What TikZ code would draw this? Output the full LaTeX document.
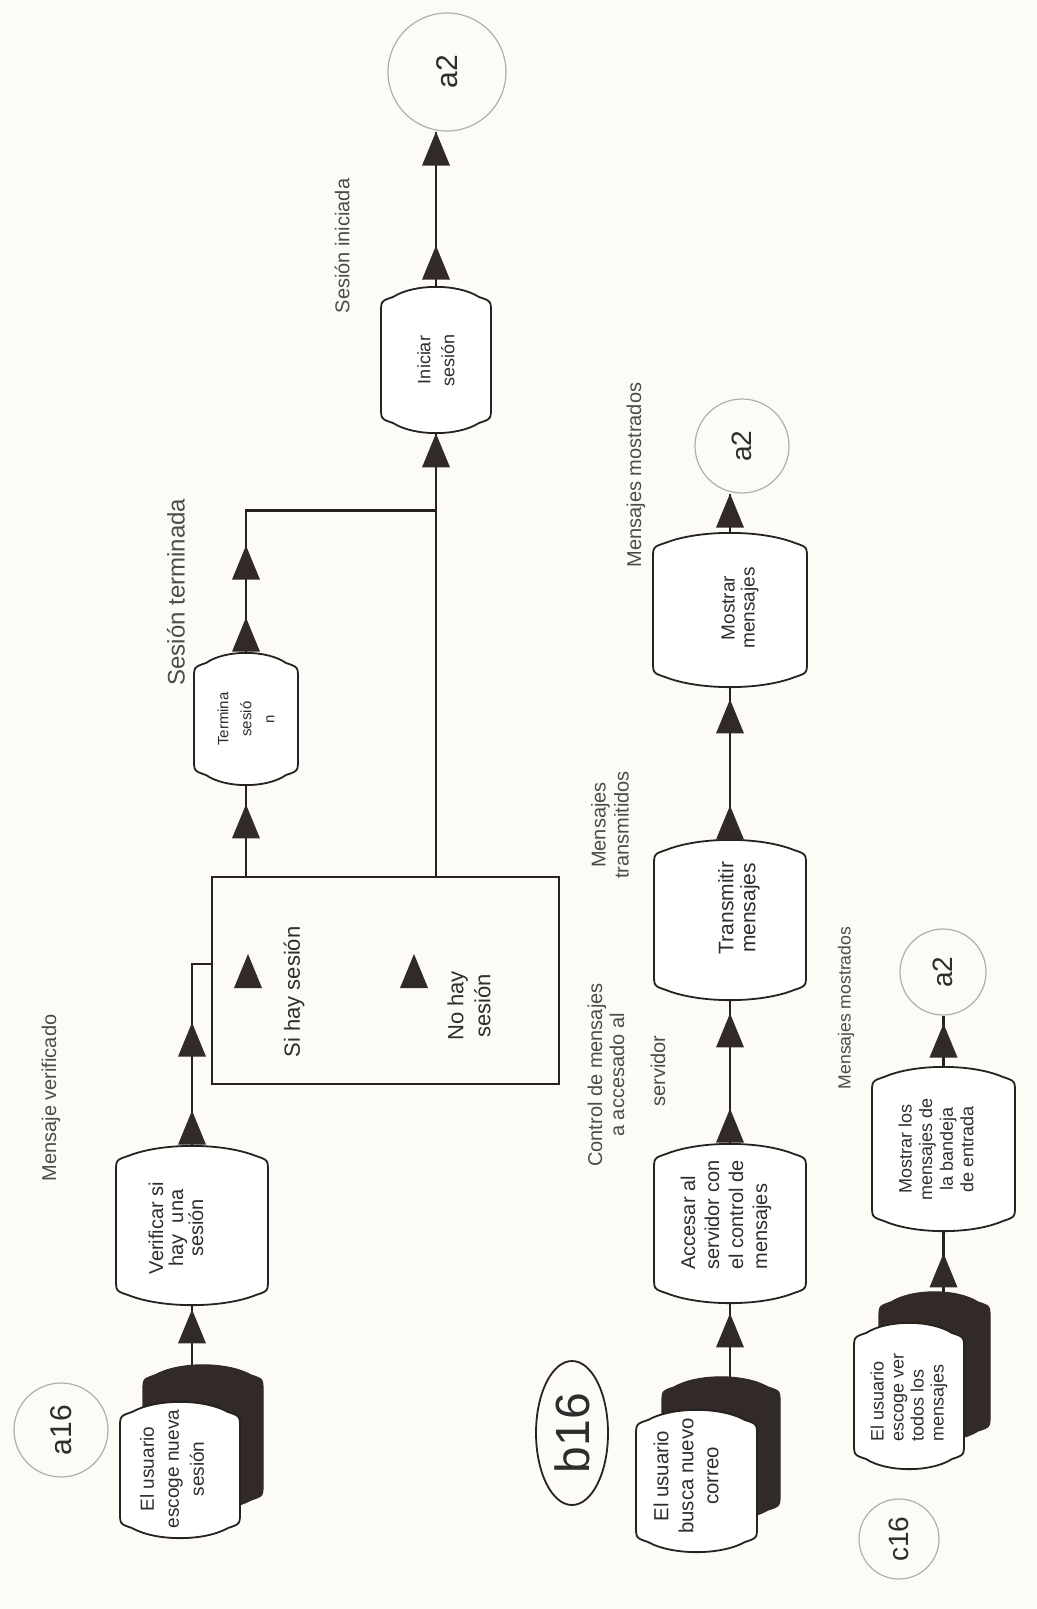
\documentclass[tikz,border=0pt]{standalone}
\usepackage{fontspec}
\setmainfont{Liberation Sans}
\usetikzlibrary{calc,shapes.geometric}
\definecolor{paper}{RGB}{253,251,246}
\definecolor{ink}{RGB}{38,34,32}
\definecolor{trifill}{RGB}{50,42,38}
\definecolor{circ}{RGB}{175,175,175}
\definecolor{lbl}{RGB}{75,75,75}
\definecolor{txt}{RGB}{45,45,45}

% #1 name, #2 x1, #3 y1, #4 x2, #5 y2, #6 style
\newcommand{\procbox}[6]{%
  \path[#6] ({#2},{#3+26}) .. controls ({#2},{#3+14}) .. ({#2+12},{#3+10})
    .. controls ({#2+0.3*(#4-#2)},{#3-3.5}) and ({#4-0.3*(#4-#2)},{#3-3.5}) .. ({#4-12},{#3+10})
    .. controls ({#4},{#3+14}) .. ({#4},{#3+26})
    -- ({#4},{#5-26})
    .. controls ({#4},{#5-14}) .. ({#4-12},{#5-10})
    .. controls ({#4-0.3*(#4-#2)},{#5+3.5}) and ({#2+0.3*(#4-#2)},{#5+3.5}) .. ({#2+12},{#5-10})
    .. controls ({#2},{#5-14}) .. ({#2},{#5-26}) -- cycle;
  \node[inner sep=0pt, minimum width={(#4-#2)*0.5}, minimum height={(#5-#3)*0.5}] (#1) at ({(#2+#4)/2},{(#3+#5)/2}) {};
}

\tikzset{
  conn/.style={draw=ink, line width=1.1pt},
  frontbox/.style={fill=white, draw=ink, line width=0.9pt},
  shadowbox/.style={fill=trifill, draw=trifill, line width=0.6pt},
  circnode/.style={circle, draw=circ, line width=0.6pt, inner sep=0pt},
  boxtext/.style={rotate=90, align=center, text=txt, inner sep=0pt},
  lbltext/.style={rotate=90, align=center, text=lbl, inner sep=0pt},
  pics/triup/.style={code={\fill[trifill] (-14,0) -- (14,0) -- (0,-34) -- cycle;}},
}

\begin{document}
\begin{tikzpicture}[x=0.5pt,y=-0.5pt]
\fill[paper] (0,0) rectangle (1037,1609);
\useasboundingbox (0,0) rectangle (1037,1609);

% ---------- circles ----------
\node[circnode, minimum size=59pt] (a2t) at (447,72) {};
\node[boxtext, font=\fontsize{15}{18}\selectfont] (a2t-l) at (a2t) {a2};
\node[circnode, minimum size=47pt] (a2m) at (742,446) {};
\node[boxtext, font=\fontsize{14}{17}\selectfont] (a2m-l) at (a2m) {a2};
\node[circnode, minimum size=43pt] (a2c) at (943,972) {};
\node[boxtext, font=\fontsize{14}{17}\selectfont] (a2c-l) at (a2c) {a2};
\node[circnode, minimum size=47pt] (a16) at (61,1430) {};
\node[boxtext, font=\fontsize{15}{18}\selectfont] (a16-l) at (a16) {a16};
\node[ellipse, draw=ink, line width=0.9pt, minimum width=36pt, minimum height=72pt, inner sep=0pt] (b16) at (572,1433) {};
\node[boxtext, font=\fontsize{24}{28}\selectfont] (b16-l) at (b16) {b16};
\node[circnode, minimum size=40pt] (c16) at (899,1539) {};
\node[boxtext, font=\fontsize{14}{17}\selectfont] (c16-l) at (c16) {c16};

% ---------- boxes ----------
\procbox{ini}{381}{287}{491}{433}{frontbox}
\procbox{ter}{194}{653}{298}{785}{frontbox}
\procbox{ver}{116}{1146}{268}{1305}{frontbox}
\procbox{ash}{143}{1365}{263}{1510}{shadowbox}
\procbox{afr}{120}{1402}{240}{1538}{frontbox}
\procbox{acc}{654}{1144}{806}{1303}{frontbox}
\procbox{tra}{654}{840}{806}{1000}{frontbox}
\procbox{mos}{653}{533}{807}{687}{frontbox}
\procbox{bsh}{662}{1377}{780}{1520}{shadowbox}
\procbox{bfr}{636}{1410}{757}{1552}{frontbox}
\procbox{mlb}{872}{1067}{1015}{1231}{frontbox}
\procbox{csh}{879}{1292}{990}{1441}{shadowbox}
\procbox{cfr}{854}{1323}{964}{1469}{frontbox}

\node[draw=ink, line width=0.9pt, minimum width=173.5pt, minimum height=103.5pt, inner sep=0pt] (dec) at (385.5,980.5) {};

% ---------- box texts ----------
\node[boxtext, font=\fontsize{9}{12}\selectfont] (ini-t) at (ini) {Iniciar\\sesión};
\node[boxtext, font=\fontsize{7.5}{11.5}\selectfont] (ter-t) at (ter) {Termina\\sesió\\n};
\node[boxtext, font=\fontsize{10}{10}\selectfont] (ver-t) at (176,1228) {Verificar si\\hay\ \ una\\sesión};
\node[boxtext, font=\fontsize{9.5}{12.5}\selectfont] (afr-t) at (172,1469) {El usuario\\escoge nueva\\sesión};
\node[boxtext, align=left, font=\fontsize{10}{12}\selectfont] (acc-t) at (726,1215) {Accesar al\\servidor con\\el control de\\mensajes};
\node[boxtext, font=\fontsize{10.5}{11}\selectfont] (tra-t) at (739,908) {Transmitir\\mensajes};
\node[boxtext, font=\fontsize{9.5}{10}\selectfont] (mos-t) at (740,608) {Mostrar\\mensajes};
\node[boxtext, font=\fontsize{10.2}{12.5}\selectfont] (bfr-t) at (686,1476) {El usuario\\busca nuevo\\correo};
\node[boxtext, font=\fontsize{9}{10.3}\selectfont] (mlb-t) at (936,1149) {Mostrar los\\mensajes de\\la bandeja\\de entrada};
\node[boxtext, align=left, font=\fontsize{9}{10}\selectfont] (cfr-t) at (909,1397) {El usuario\\escoge ver\\todos los\\mensajes};
\node[boxtext, font=\fontsize{11}{13.5}\selectfont] (t-si) at (294,992) {Si hay sesión};
\node[boxtext, font=\fontsize{11}{13.5}\selectfont] (t-no) at (469,1006) {No hay\\sesión};

% ---------- labels ----------
\node[lbltext, font=\fontsize{10}{12}\selectfont] (t-sini) at (342,246) {Sesión iniciada};
\node[lbltext, font=\fontsize{12}{14}\selectfont] (t-ster) at (176,592) {Sesión terminada};
\node[lbltext, font=\fontsize{10}{12}\selectfont] (t-mver) at (51,1098) {Mensaje verificado};
\node[lbltext, font=\fontsize{10}{12}\selectfont] (t-mm1) at (636,475) {Mensajes mostrados};
\node[lbltext, font=\fontsize{10}{11.5}\selectfont] (t-mt) at (610,825) {Mensajes\\transmitidos};
\node[lbltext, font=\fontsize{10}{11}\selectfont] (t-cm) at (606,1075) {Control de mensajes\\a accesado al};
\node[lbltext, font=\fontsize{10}{12}\selectfont] (t-serv) at (658,1071) {servidor};
\node[lbltext, font=\fontsize{8.8}{10}\selectfont] (t-mm2) at (846,1008) {Mensajes mostrados};

% ---------- connectors ----------
\coordinate (decin) at ($(dec.north west)!0.42!(dec.south west)$);
\coordinate (jn) at ($(ini.south)+(0,77)$);

% a16 flow
\draw[conn] (ver.south |- ash.north) -- (ver.south);
\pic at ($(ver.south)+(0,38)$) {triup};
\draw[conn] (ver.north) |- (decin);
\pic at ($(ver.north)+(0,-1)$) {triup};
\pic at ($(ver.north)+(0,-89)$) {triup};
\draw[conn] (ter.south |- dec.north) -- (ter.south);
\pic at ($(ter.south)+(0,53)$) {triup};
\draw[conn] (ter.north) |- (jn);
\pic at ($(ter.north)+(0,-1)$) {triup};
\pic at ($(ter.north)+(0,-73)$) {triup};
\draw[conn] (ini.south |- dec.north) -- (ini.south);
\pic at ($(ini.south)+(0,34)$) {triup};
\draw[conn] (ini.north) -- (ini.north |- a2t.south);
\pic at ($(ini.north)+(0,-7)$) {triup};
\pic at ($(ini.north |- a2t.south)+(0,34)$) {triup};
\pic at (248,988) {triup};
\pic at (414,988) {triup};

% b16 flow
\draw[conn] (acc.south |- bsh.north) -- (acc.south);
\pic at ($(acc.south)+(0,44)$) {triup};
\draw[conn] (acc.north) -- (tra.south);
\pic at ($(acc.north)+(0,-1)$) {triup};
\pic at ($(tra.south)+(0,47)$) {triup};
\draw[conn] (tra.north) -- (mos.south);
\pic at ($(tra.north)+(0,0)$) {triup};
\pic at ($(mos.south)+(0,46)$) {triup};
\draw[conn] (mos.north) -- (mos.north |- a2m.south);
\pic at ($(mos.north |- a2m.south)+(0,34)$) {triup};

% c16 flow
\draw[conn] (mlb.south |- csh.north) -- (mlb.south);
\pic at ($(mlb.south)+(0,56)$) {triup};
\draw[conn] (mlb.north) -- (mlb.north |- a2c.south);
\pic at ($(mlb.north)+(0,-9)$) {triup};
\end{tikzpicture}
\end{document}
